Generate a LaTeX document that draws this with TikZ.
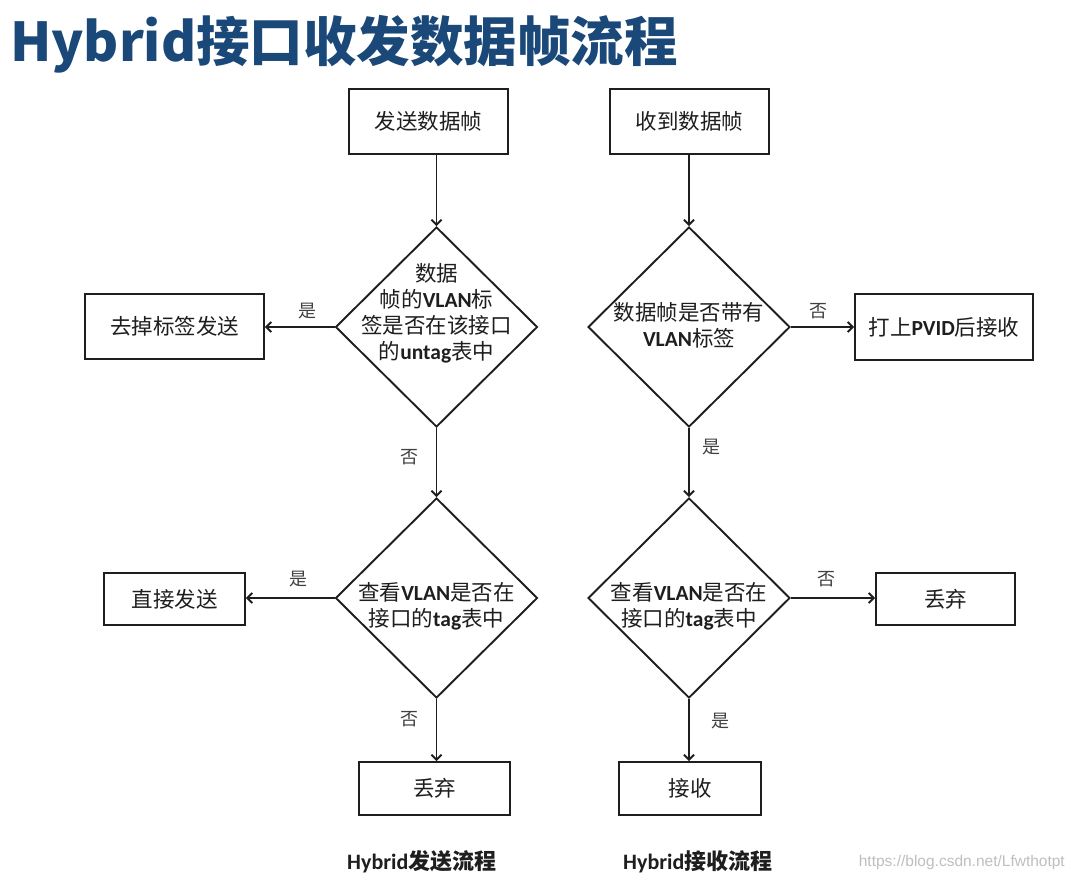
\documentclass[tikz,border=0pt]{standalone}
\usepackage{fontspec}
\usetikzlibrary{arrows.meta,shapes.geometric}
\newfontfamily\cjk{Noto Sans CJK SC}
\newfontfamily\lat{Carlito}
\newfontfamily\wmfont{Liberation Sans}
\newcommand{\la}[1]{{\lat\bfseries #1}}
\definecolor{titleblue}{RGB}{26,72,120}
\definecolor{ink}{RGB}{30,30,30}
\tikzset{
  box/.style={draw=ink, line width=1.9pt, rectangle, inner sep=0pt, font=\cjk\fontsize{21.5}{26}\selectfont, text=ink},
  dia/.style={draw=ink, line width=1.9pt, diamond, inner sep=0pt, minimum width=202pt, minimum height=200pt},
  dtext/.style={align=center, inner sep=0pt, font=\cjk\fontsize{21.5}{26}\selectfont, text=ink},
  conn/.style={draw=ink, line width=1.9pt, -{Straight Barb[length=5pt,width=10pt]}},
  yn/.style={font=\cjk\fontsize{18}{20}\selectfont, text=ink!85, inner sep=0pt},
  captext/.style={font=\cjk\bfseries\fontsize{22}{24}\selectfont, text=ink, inner sep=0pt, anchor=west}
}
\begin{document}
\begin{tikzpicture}[x=1pt,y=-1pt]
\useasboundingbox[fill=white] (0,0) rectangle (1071,881);
% title
\node[anchor=west, inner sep=0pt, text=titleblue, font=\cjk\bfseries\fontsize{53.5}{60}\selectfont] (title) at (10,44) {Hybrid接口收发数据帧流程};
% left flow
\node[box, minimum width=159pt, minimum height=65pt] (s1) at (428.5,121.5) {发送数据帧};
\node[dia] (d1) at (436.5,327) {};
\node[dtext] (t1) at (436.5,313) {数据\\帧的\la{VLAN}标\\签是否在该接口\\的\la{untag}表中};
\node[box, minimum width=179pt, minimum height=65pt] (b1) at (174.5,326.5) {去掉标签发送};
\node[dia] (d3) at (436.5,598) {};
\node[dtext] (t3) at (436.5,606) {查看\la{VLAN}是否在\\接口的\la{tag}表中};
\node[box, minimum width=141pt, minimum height=52pt] (b3) at (174.5,599) {直接发送};
\node[box, minimum width=151pt, minimum height=53pt] (b5) at (434.5,788.5) {丢弃};
% right flow
\node[box, minimum width=159pt, minimum height=65pt] (r1) at (689.5,121.5) {收到数据帧};
\node[dia] (d2) at (689,327) {};
\node[dtext] (t2) at (689,325) {数据帧是否带有\\\la{VLAN}标签};
\node[box, minimum width=178pt, minimum height=66pt] (b2) at (944,327) {打上\la{PVID}后接收};
\node[dia] (d4) at (689,598) {};
\node[dtext] (t4) at (689,606) {查看\la{VLAN}是否在\\接口的\la{tag}表中};
\node[box, minimum width=139pt, minimum height=52pt] (b4) at (945.5,599) {丢弃};
\node[box, minimum width=142pt, minimum height=53pt] (b6) at (690,788.5) {接收};
% connectors left
\draw[conn] (s1.south -| d1.north) -- (d1.north);
\draw[conn] (d1.west) -- (d1.west -| b1.east);
\draw[conn] (d1.south) -- (d3.north);
\draw[conn] (d3.west) -- (d3.west -| b3.east);
\draw[conn] (d3.south) -- (d3.south |- b5.north);
% connectors right
\draw[conn] (r1.south -| d2.north) -- (d2.north);
\draw[conn] (d2.east) -- (d2.east -| b2.west);
\draw[conn] (d2.south) -- (d4.north);
\draw[conn] (d4.east) -- (d4.east -| b4.west);
\draw[conn] (d4.south) -- (d4.south |- b6.north);
% yes/no labels
\node[yn] (l1) at (307,311) {是};
\node[yn] (l2) at (409,457) {否};
\node[yn] (l3) at (298,579) {是};
\node[yn] (l4) at (409,719) {否};
\node[yn] (l5) at (818,311) {否};
\node[yn] (l6) at (711,447) {是};
\node[yn] (l7) at (826,579) {否};
\node[yn] (l8) at (720,721) {是};
% captions
\node[captext] (c1) at (347,862) {\la{Hybrid}发送流程};
\node[captext] (c2) at (623,862) {\la{Hybrid}接收流程};
\node[anchor=east, inner sep=0pt, text=black!25, font=\wmfont\fontsize{15.5}{17}\selectfont] (wm) at (1065,862) {https://blog.csdn.net/Lfwthotpt};
\end{tikzpicture}
\end{document}
